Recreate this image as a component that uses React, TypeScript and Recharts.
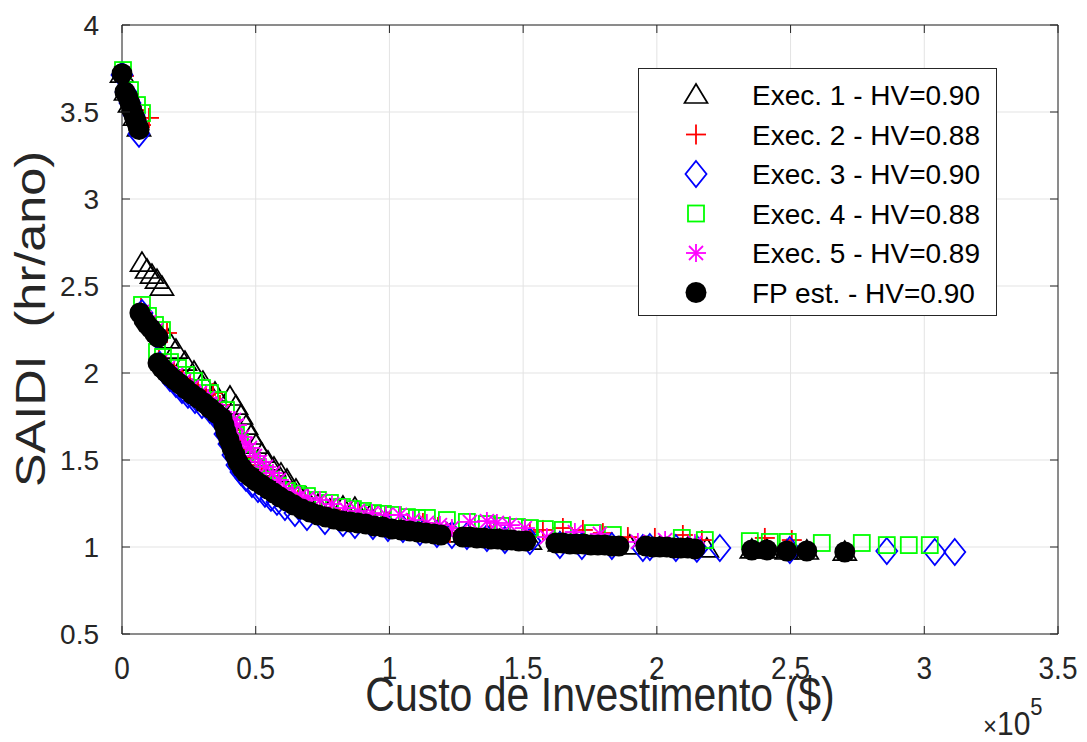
import React from "react";
import {
  ScatterChart,
  Scatter,
  XAxis,
  YAxis,
  CartesianGrid,
  ReferenceLine,
  Legend,
} from "recharts";

type Pt = [number, number];

const FONT = '"Liberation Sans", Arial, Helvetica, sans-serif';
const AXIS_COLOR = "#262626";

const X_TICKS = [0, 50000, 100000, 150000, 200000, 250000, 300000, 350000];
const Y_TICKS = [0.5, 1, 1.5, 2, 2.5, 3, 3.5, 4];

// custo ($), SAIDI (hr/ano)
const EXEC1: Pt[] = [
  [0, 3.718], [1495, 3.615], [2991, 3.546], [4860, 3.471], [6355, 3.408],
  [7477, 2.632], [9346, 2.592], [11215, 2.563], [13084, 2.534], [14953, 2.494],
  [17196, 2.19], [20187, 2.132], [23551, 2.063], [26916, 2.006], [30280, 1.948],
  [34766, 1.885], [40374, 1.862], [42617, 1.81], [44486, 1.753], [46355, 1.695],
  [48224, 1.638], [50093, 1.586], [52336, 1.534], [54579, 1.489], [56822, 1.454],
  [59439, 1.42], [61682, 1.385], [65047, 1.328], [68785, 1.282], [73271, 1.241],
  [77757, 1.213], [82617, 1.23], [87103, 1.224], [92710, 1.178], [98692, 1.144],
  [105047, 1.115], [111402, 1.103], [121495, 1.075], [130093, 1.057], [141308, 1.04],
  [152523, 1.034], [163738, 1.023], [178692, 1.011], [189907, 1.006], [201121, 1.0],
  [211589, 0.994], [218692, 0.989], [235514, 0.983], [241121, 0.983], [248598, 0.977],
  [256075, 0.977], [270280, 0.971],
];

const EXEC2: Pt[] = [
  [748, 3.707], [2617, 3.603], [4486, 3.511], [7103, 3.425], [10093, 3.466],
  [7103, 2.374], [9346, 2.316], [11589, 2.27], [16822, 2.23],
  [13832, 2.075], [16449, 2.04], [19439, 2.006], [22430, 1.966], [25421, 1.931],
  [28411, 1.897], [31402, 1.874], [34019, 1.885], [36636, 1.816], [38879, 1.741],
  [40748, 1.672], [42243, 1.615], [43738, 1.557], [45607, 1.511], [47477, 1.471],
  [49720, 1.437], [52336, 1.402], [55327, 1.368], [58692, 1.339], [62430, 1.305],
  [65794, 1.27], [69533, 1.241], [74019, 1.224], [78131, 1.213], [83364, 1.195],
  [88972, 1.178], [94579, 1.161], [100187, 1.149], [106916, 1.138], [112523, 1.138],
  [118131, 1.115], [122617, 1.08], [130093, 1.103], [137570, 1.092], [145047, 1.086],
  [152523, 1.086], [157383, 1.098], [164860, 1.109], [172336, 1.098], [179813, 1.08],
  [189159, 1.057], [199252, 1.052], [209720, 1.069], [216822, 1.04], [240374, 1.052],
  [250467, 1.04],
];

const EXEC3: Pt[] = [
  [0, 3.713], [1495, 3.615], [2991, 3.552], [4486, 3.483], [6355, 3.374],
  [7477, 2.345], [8972, 2.293], [11215, 2.247], [13084, 2.213],
  [14206, 2.046], [16075, 2.006], [17944, 1.971], [20187, 1.937], [22430, 1.902],
  [24673, 1.874], [27290, 1.845], [29907, 1.816], [32897, 1.787], [35514, 1.753],
  [37383, 1.707], [38505, 1.649], [40000, 1.592], [41495, 1.529], [42991, 1.471],
  [44486, 1.431], [46355, 1.397], [48598, 1.362], [50841, 1.333], [53458, 1.305],
  [55701, 1.282], [57944, 1.259], [60935, 1.23], [64673, 1.195], [69159, 1.172],
  [75888, 1.149], [82617, 1.138], [87103, 1.126], [93832, 1.121], [99439, 1.109],
  [105047, 1.103], [111402, 1.086], [117757, 1.075], [123364, 1.069], [128972, 1.063],
  [136449, 1.052], [143178, 1.04], [152523, 1.034], [163738, 1.011], [171963, 1.006],
  [183178, 1.006], [194766, 0.994], [197383, 1.0], [207103, 0.994], [214953, 0.989],
  [223551, 0.994], [249720, 0.983], [285981, 0.977], [303925, 0.971], [311402, 0.971],
];

const EXEC4: Pt[] = [
  [374, 3.741], [2991, 3.626], [5607, 3.54], [7477, 3.494],
  [7477, 2.391], [9720, 2.328], [12336, 2.276], [14953, 2.247],
  [13084, 2.121], [15327, 2.092], [17944, 2.063], [20935, 2.029], [23925, 1.989],
  [26916, 1.954], [29907, 1.914], [32897, 1.885], [35888, 1.845], [38879, 1.787],
  [41121, 1.701], [42617, 1.644], [44112, 1.598], [45981, 1.546], [47850, 1.5],
  [50093, 1.46], [52710, 1.42], [55327, 1.385], [58318, 1.351], [61682, 1.322],
  [65421, 1.305], [69159, 1.293], [73271, 1.27], [77757, 1.253], [82243, 1.23],
  [86355, 1.218], [90093, 1.207], [93832, 1.195], [97570, 1.19], [101308, 1.184],
  [106542, 1.172], [110280, 1.167], [114019, 1.167], [121495, 1.155], [128972, 1.144],
  [136449, 1.132], [142056, 1.121], [147664, 1.115], [152523, 1.109], [158131, 1.103],
  [164860, 1.098], [176075, 1.08], [183551, 1.069], [209346, 1.052], [217944, 1.04],
  [234766, 1.034], [242243, 1.029], [248972, 1.029], [261682, 1.023], [276636, 1.023],
  [285981, 1.011], [294206, 1.011], [302056, 1.011],
];

const EXEC5: Pt[] = [
  [0, 3.724], [1869, 3.609], [3738, 3.534], [5607, 3.454],
  [7477, 2.351], [10093, 2.293], [12710, 2.247],
  [14206, 2.063], [17196, 2.029], [20187, 1.989], [23178, 1.954], [26168, 1.92],
  [29159, 1.885], [32150, 1.856], [35140, 1.816], [37383, 1.776], [40000, 1.736],
  [41869, 1.73], [42991, 1.701], [44860, 1.632], [46355, 1.592], [47850, 1.569],
  [49720, 1.523], [51589, 1.489], [53832, 1.46], [56449, 1.425], [58692, 1.385],
  [60561, 1.339], [63551, 1.31], [66542, 1.293], [69533, 1.282], [74019, 1.27],
  [78505, 1.247], [83364, 1.224], [88224, 1.207], [93458, 1.195], [98692, 1.184],
  [103925, 1.184], [108785, 1.155], [114019, 1.138], [118879, 1.126], [123364, 1.109],
  [130093, 1.144], [136449, 1.149], [140187, 1.138], [145047, 1.126], [150654, 1.109],
  [158879, 1.057], [169346, 1.086], [178692, 1.075], [192897, 1.029], [203084, 1.04],
  [214206, 1.023],
];

const FP_EST: Pt[] = [
  [0, 3.72], [1100, 3.615], [2200, 3.585], [3000, 3.55], [3700, 3.51],
  [4500, 3.48], [5200, 3.45], [6000, 3.415], [6400, 3.4],
  [6700, 2.345], [8200, 2.305], [9300, 2.28], [10800, 2.255], [12300, 2.225], [13500, 2.205],
  [13458, 2.057], [14953, 2.029], [16449, 2.006], [17944, 1.983], [19813, 1.96],
  [21682, 1.937], [23925, 1.908], [26168, 1.879], [28411, 1.856], [30654, 1.828],
  [32897, 1.799], [35140, 1.77], [37383, 1.741], [38131, 1.701], [38879, 1.661],
  [40000, 1.615], [41121, 1.569], [42243, 1.529], [43364, 1.489], [44860, 1.454],
  [46355, 1.425], [48224, 1.402], [50093, 1.379], [52336, 1.356], [54579, 1.333],
  [56822, 1.31], [59065, 1.287], [61682, 1.264], [64299, 1.241], [67290, 1.218],
  [70280, 1.201], [73271, 1.184], [76262, 1.172], [79252, 1.161], [82243, 1.149],
  [85234, 1.144], [88224, 1.138], [91215, 1.132], [94206, 1.121], [97570, 1.115],
  [100935, 1.103], [104299, 1.098], [107664, 1.092], [110654, 1.086], [113645, 1.08],
  [116636, 1.075], [119252, 1.069], [127477, 1.057], [130093, 1.057], [132710, 1.052],
  [135327, 1.052], [137944, 1.046], [140561, 1.046], [143178, 1.04], [145794, 1.04],
  [148411, 1.034], [151028, 1.034], [162243, 1.023], [164860, 1.023], [167477, 1.017],
  [170093, 1.017], [172710, 1.017], [175327, 1.011], [177944, 1.011], [180561, 1.011],
  [183178, 1.006], [185794, 1.006], [195888, 1.006], [198505, 1.0], [201121, 1.0],
  [203738, 1.0], [206355, 0.994], [208972, 0.994], [211589, 0.994], [214206, 0.989],
  [235514, 0.983], [241121, 0.983], [248598, 0.977], [256075, 0.977], [270280, 0.971],
];

const toPoints = (arr: Pt[]) => arr.map(([x, y]) => ({ x, y }));

type MarkerKind = "triangle" | "plus" | "diamond" | "square" | "star" | "circle";

function Marker({ kind, cx, cy }: { kind: MarkerKind; cx: number; cy: number }) {
  switch (kind) {
    case "triangle":
      return (
        <polygon
          points={`${cx},${cy - 11} ${cx - 11.5},${cy + 8} ${cx + 11.5},${cy + 8}`}
          fill="none"
          stroke="#000000"
          strokeWidth={1.7}
        />
      );
    case "plus":
      return (
        <g stroke="#ff0000" strokeWidth={1.8}>
          <line x1={cx - 10} x2={cx + 10} y1={cy} y2={cy} />
          <line x1={cx} x2={cx} y1={cy - 10} y2={cy + 10} />
        </g>
      );
    case "diamond":
      return (
        <polygon
          points={`${cx},${cy - 13} ${cx + 10.5},${cy} ${cx},${cy + 13} ${cx - 10.5},${cy}`}
          fill="none"
          stroke="#0000ff"
          strokeWidth={1.8}
        />
      );
    case "square":
      return (
        <rect x={cx - 8} y={cy - 8} width={16} height={16} fill="none" stroke="#00ff00" strokeWidth={1.8} />
      );
    case "star":
      return (
        <g stroke="#ff00ff" strokeWidth={1.8}>
          <line x1={cx - 10} x2={cx + 10} y1={cy} y2={cy} />
          <line x1={cx} x2={cx} y1={cy - 9} y2={cy + 9} />
          <line x1={cx - 7} x2={cx + 7} y1={cy - 7} y2={cy + 7} />
          <line x1={cx - 7} x2={cx + 7} y1={cy + 7} y2={cy - 7} />
        </g>
      );
    default:
      return <circle cx={cx} cy={cy} r={10.5} fill="#000000" />;
  }
}

const SERIES: { name: string; kind: MarkerKind; color: string; data: Pt[] }[] = [
  { name: "Exec. 1 - HV=0.90", kind: "triangle", color: "#000000", data: EXEC1 },
  { name: "Exec. 2 - HV=0.88", kind: "plus", color: "#ff0000", data: EXEC2 },
  { name: "Exec. 3 - HV=0.90", kind: "diamond", color: "#0000ff", data: EXEC3 },
  { name: "Exec. 4 - HV=0.88", kind: "square", color: "#00ff00", data: EXEC4 },
  { name: "Exec. 5 - HV=0.89", kind: "star", color: "#ff00ff", data: EXEC5 },
  { name: "FP est. - HV=0.90", kind: "circle", color: "#000000", data: FP_EST },
];

// plot box edges in px (follow from chart margins and axis sizes below)
const BOX = { left: 122, right: 1058, top: 25, bottom: 634 };

function XTick(props: any) {
  const { x, payload } = props;
  return (
    <g>
      <line x1={x} x2={x} y1={BOX.bottom} y2={BOX.bottom - 8} stroke={AXIS_COLOR} />
      <line x1={x} x2={x} y1={BOX.top} y2={BOX.top + 8} stroke={AXIS_COLOR} />
      <text
        transform={`translate(${x},679) scale(1,1.12)`}
        textAnchor="middle"
        fontSize={28}
        fontFamily={FONT}
        fill={AXIS_COLOR}
      >
        {payload.value / 1e5}
      </text>
    </g>
  );
}

function YTick(props: any) {
  const { y, payload } = props;
  return (
    <g>
      <line x1={BOX.left} x2={BOX.left + 8} y1={y} y2={y} stroke={AXIS_COLOR} />
      <line x1={BOX.right - 8} x2={BOX.right} y1={y} y2={y} stroke={AXIS_COLOR} />
      <text x={99} y={y + 10} textAnchor="end" fontSize={28} fontFamily={FONT} fill={AXIS_COLOR}>
        {payload.value}
      </text>
    </g>
  );
}

function XTitle() {
  return (
    <g fill={AXIS_COLOR} fontFamily={FONT}>
      <text transform="translate(600,711) scale(1,1.18)" textAnchor="middle" fontSize={41}>
        Custo de Investimento ($)
      </text>
      {/* multiplicador do eixo x */}
      <text transform="translate(983,735) scale(1,1.1)" style={{ fontSize: 30 }}>
        <tspan style={{ fontSize: 24 }}>×</tspan>
        <tspan style={{ fontSize: 30 }}>10</tspan>
        <tspan dy={-18} style={{ fontSize: 22 }}>
          5
        </tspan>
      </text>
    </g>
  );
}

function YTitle() {
  return (
    <text
      transform="translate(45,319) rotate(-90) scale(1.2,1)"
      textAnchor="middle"
      fontSize={42}
      fontFamily={FONT}
      fill={AXIS_COLOR}
      style={{ whiteSpace: "pre" }}
    >
      SAIDI  (hr/ano)
    </text>
  );
}

function LegendBox() {
  return (
    <svg width={360} height={249} style={{ display: "block" }}>
      <rect x={0.5} y={0.5} width={358} height={247} fill="#ffffff" stroke={AXIS_COLOR} />
      {SERIES.map((s, i) => {
        const cy = 27 + i * 39.5;
        return (
          <g key={s.name}>
            <Marker kind={s.kind} cx={58} cy={cy} />
            <text x={114} y={cy + 10} fontSize={28} fontFamily={FONT} fill="#000000">
              {s.name}
            </text>
          </g>
        );
      })}
    </svg>
  );
}

export default function App() {
  return (
    <div style={{ position: "absolute", left: 0, top: 0, background: "#ffffff" }}>
      <ScatterChart width={1087} height={742} margin={{ top: 25, right: 29, bottom: 0, left: 22 }}>
        <CartesianGrid stroke="#e3e3e3" />
        <XAxis
          type="number"
          dataKey="x"
          domain={[0, 350000]}
          ticks={X_TICKS}
          interval={0}
          height={108}
          tickSize={0}
          tickMargin={0}
          tick={<XTick />}
          axisLine={{ stroke: AXIS_COLOR }}
          label={<XTitle />}
        />
        <YAxis
          type="number"
          dataKey="y"
          domain={[0.5, 4]}
          ticks={Y_TICKS}
          interval={0}
          width={100}
          tickSize={0}
          tickMargin={0}
          tick={<YTick />}
          axisLine={{ stroke: AXIS_COLOR }}
          label={<YTitle />}
        />
        <ReferenceLine y={4} stroke={AXIS_COLOR} />
        <ReferenceLine x={350000} stroke={AXIS_COLOR} />
        {SERIES.map((s) => (
          <Scatter
            key={s.name}
            name={s.name}
            data={toPoints(s.data)}
            fill={s.color}
            isAnimationActive={false}
            shape={(p: any) => <Marker kind={s.kind} cx={p.cx} cy={p.cy} />}
          />
        ))}
        <Legend
          layout="vertical"
          align="center"
          verticalAlign="middle"
          content={<LegendBox />}
          wrapperStyle={{ position: "absolute", left: 638, top: 68, width: 360, height: 249 }}
        />
      </ScatterChart>
    </div>
  );
}
